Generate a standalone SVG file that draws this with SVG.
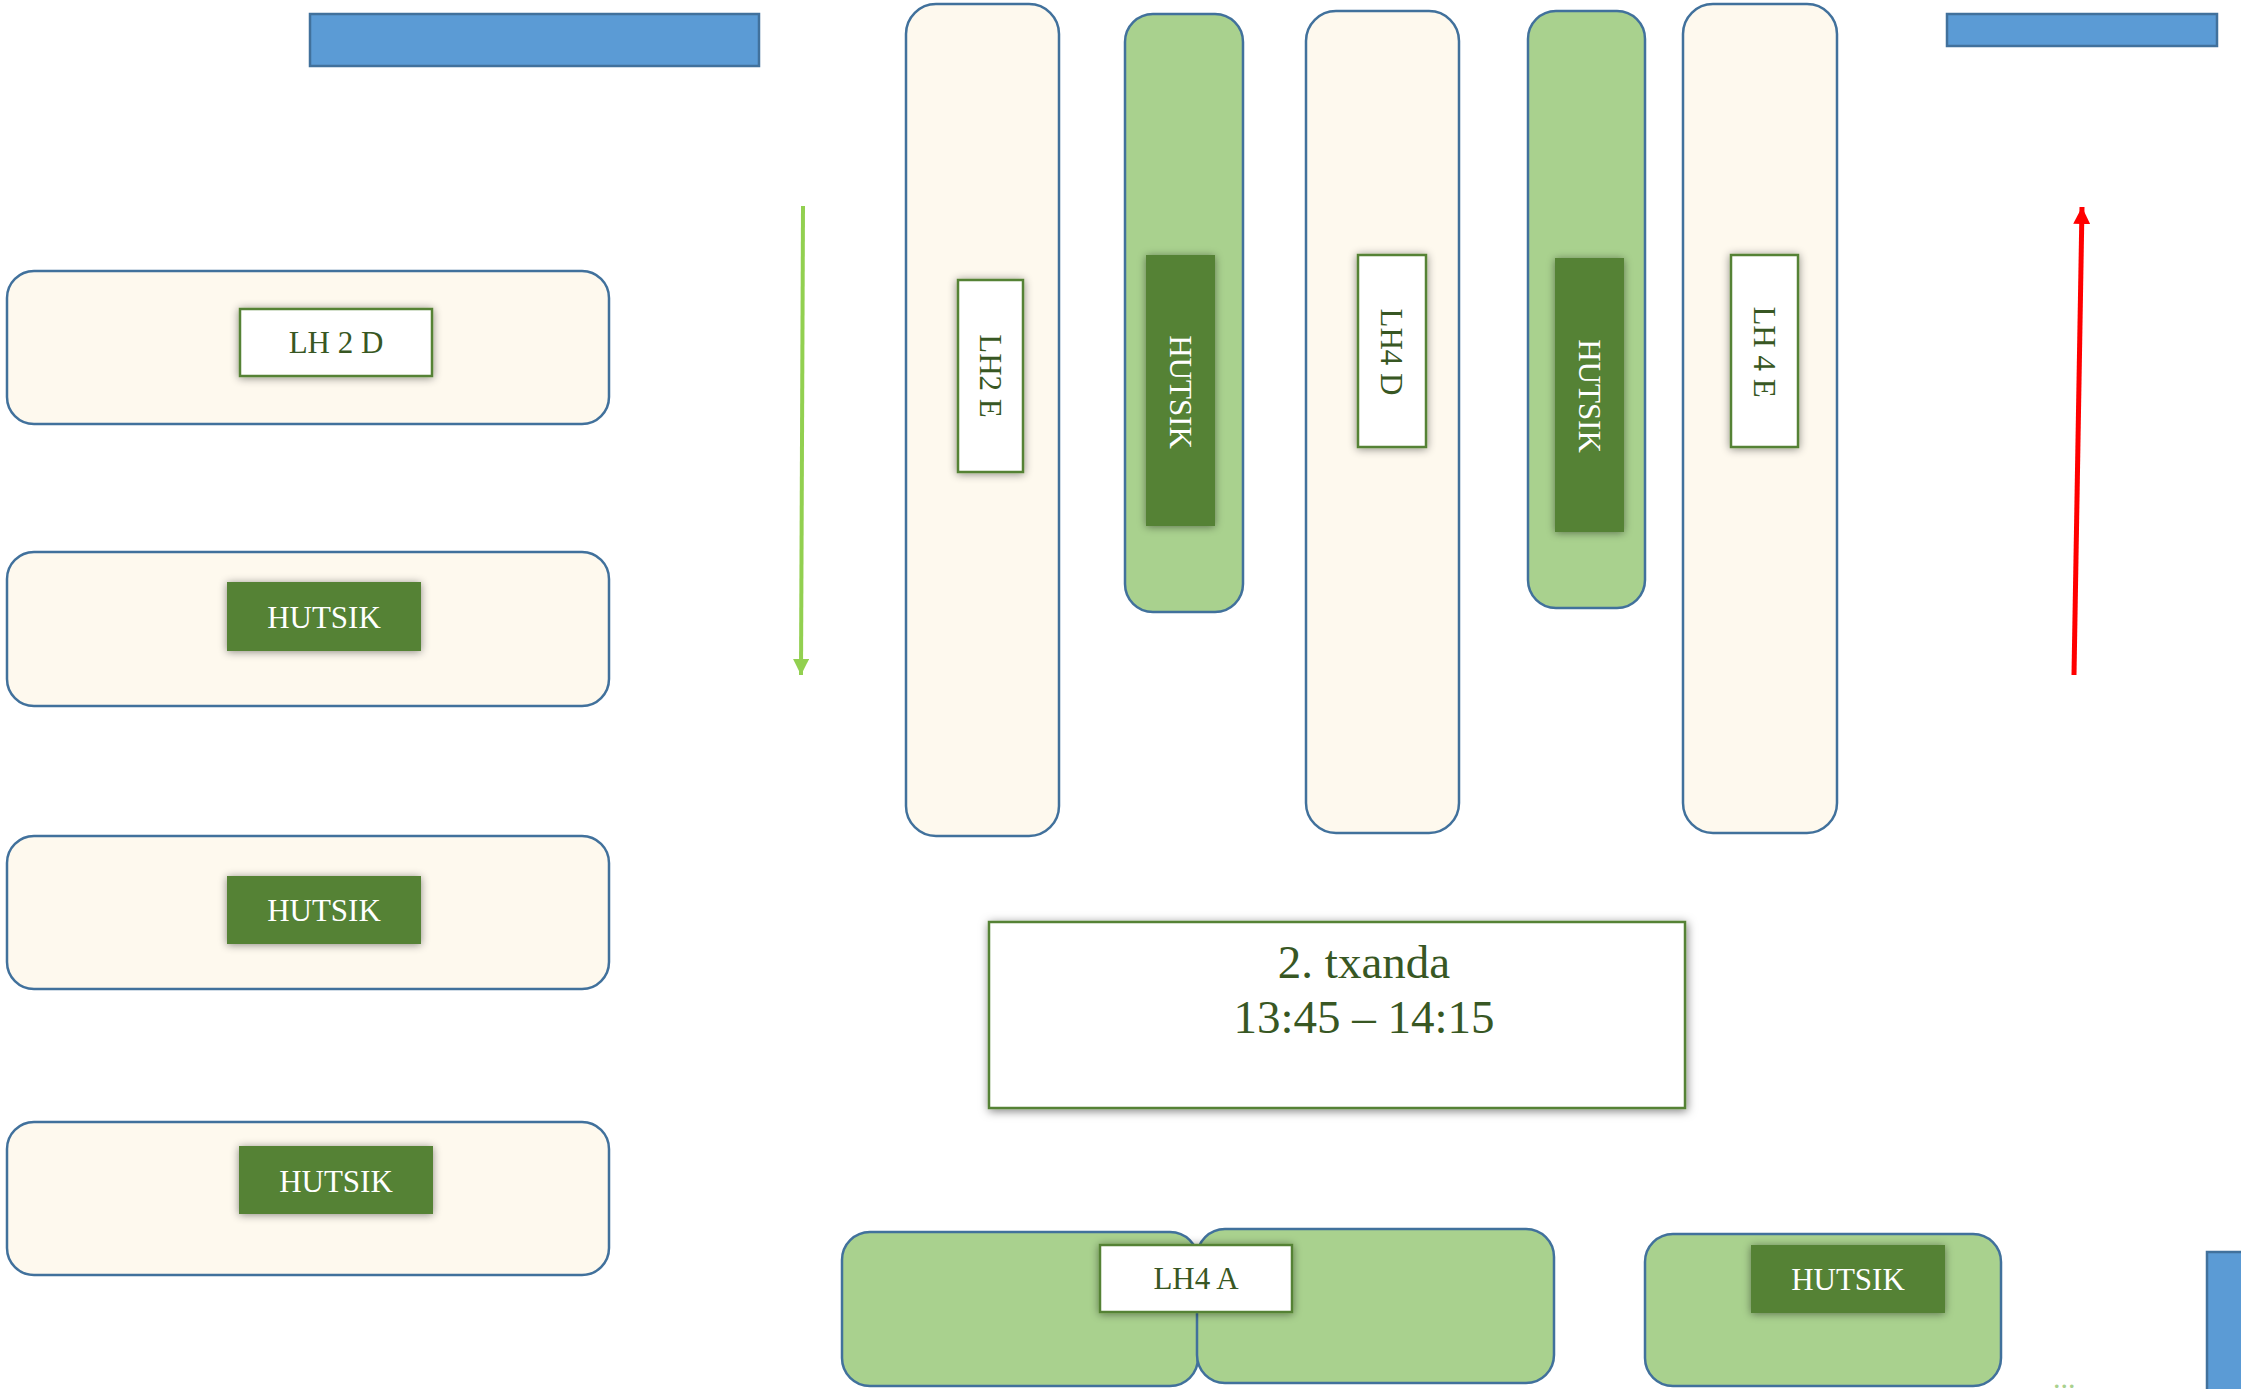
<svg xmlns="http://www.w3.org/2000/svg" width="2241" height="1389" viewBox="0 0 2241 1389">
<defs>
<filter id="sh" x="-30%" y="-30%" width="160%" height="160%">
<feDropShadow dx="0" dy="1" stdDeviation="4" flood-color="#000" flood-opacity="0.45"/>
</filter>
<filter id="sh2" x="-10%" y="-20%" width="120%" height="140%">
<feDropShadow dx="1" dy="2" stdDeviation="5" flood-color="#000" flood-opacity="0.5"/>
</filter>
<marker id="ahG" markerWidth="4" markerHeight="4" refX="4" refY="2" orient="auto" markerUnits="strokeWidth">
<path d="M0,0 L4,2 L0,4 Z" fill="#92D050"/>
</marker>
<marker id="ahR" markerWidth="3.4" markerHeight="3.4" refX="3.4" refY="1.7" orient="auto" markerUnits="strokeWidth">
<path d="M0,0 L3.4,1.7 L0,3.4 Z" fill="#FF0000"/>
</marker>
</defs>
<style>
.cream{fill:#FEF9EE;stroke:#41719C;stroke-width:2.5}
.lg{fill:#A9D18E;stroke:#41719C;stroke-width:2.5}
.blue{fill:#5B9BD5;stroke:#41719C;stroke-width:2.5}
.lab{fill:#FFFFFF;stroke:#548235;stroke-width:2.5;filter:url(#sh)}
.dk{fill:#548235;filter:url(#sh)}
.t{font-family:"Liberation Serif","Times New Roman",serif;font-size:31px;text-anchor:middle}
.tg{fill:#385723}
.tw{fill:#FFFFFF}
</style>

<g id="blue-top-left"><rect class="blue" x="310" y="14" width="449" height="52"/></g>
<g id="blue-top-right"><rect class="blue" x="1947" y="14" width="270" height="32"/></g>
<g id="blue-bottom-right"><rect class="blue" x="2207" y="1252" width="40" height="145"/></g>

<g id="row-lh2d">
<rect class="cream" x="7" y="271" width="602" height="153" rx="27"/>
<rect class="lab" x="240" y="309" width="192" height="67"/>
<text class="t tg" x="336" y="353">LH 2 D</text>
</g>
<g id="row-hutsik-1">
<rect class="cream" x="7" y="552" width="602" height="154" rx="27"/>
<rect class="dk" x="227" y="582" width="194" height="69"/>
<text class="t tw" x="324" y="628">HUTSIK</text>
</g>
<g id="row-hutsik-2">
<rect class="cream" x="7" y="836" width="602" height="153" rx="27"/>
<rect class="dk" x="227" y="876" width="194" height="68"/>
<text class="t tw" x="324" y="921">HUTSIK</text>
</g>
<g id="row-hutsik-3">
<rect class="cream" x="7" y="1122" width="602" height="153" rx="27"/>
<rect class="dk" x="239" y="1146" width="194" height="68"/>
<text class="t tw" x="336" y="1192">HUTSIK</text>
</g>

<g id="col-lh2e">
<rect class="cream" x="906" y="4" width="153" height="832" rx="30"/>
<rect class="lab" x="958" y="280" width="65" height="192"/>
<text class="t tg" transform="translate(990.5,376) rotate(90)" x="0" y="11">LH2 E</text>
</g>
<g id="col-hutsik-1">
<rect class="lg" x="1125" y="14" width="118" height="598" rx="28"/>
<rect class="dk" x="1146" y="255" width="69" height="271"/>
<text class="t tw" transform="translate(1180.5,392) rotate(90)" x="0" y="11">HUTSIK</text>
</g>
<g id="col-lh4d">
<rect class="cream" x="1306" y="11" width="153" height="822" rx="30"/>
<rect class="lab" x="1358" y="255" width="68" height="192"/>
<text class="t tg" transform="translate(1392,352) rotate(90)" x="0" y="11">LH4 D</text>
</g>
<g id="col-hutsik-2">
<rect class="lg" x="1528" y="11" width="117" height="597" rx="28"/>
<rect class="dk" x="1555" y="258" width="69" height="274"/>
<text class="t tw" transform="translate(1589.5,396) rotate(90)" x="0" y="11">HUTSIK</text>
</g>
<g id="col-lh4e">
<rect class="cream" x="1683" y="4" width="154" height="829" rx="30"/>
<rect class="lab" x="1731" y="255" width="67" height="192"/>
<text class="t tg" transform="translate(1764.5,352) rotate(90)" x="0" y="11">LH 4 E</text>
</g>

<g id="title">
<rect x="989" y="922" width="696" height="186" fill="#FFFFFF" stroke="#548235" stroke-width="2.5" filter="url(#sh2)"/>
<text class="tg" font-family="&quot;Liberation Serif&quot;,&quot;Times New Roman&quot;,serif" font-size="47" text-anchor="middle" x="1364" y="978">2. txanda</text>
<text class="tg" font-family="&quot;Liberation Serif&quot;,&quot;Times New Roman&quot;,serif" font-size="47" text-anchor="middle" x="1364" y="1033">13:45 – 14:15</text>
</g>

<g id="bottom-lh4a">
<rect class="lg" x="842" y="1232" width="356" height="154" rx="28"/>
<rect class="lg" x="1197" y="1229" width="357" height="154" rx="28"/>
<rect class="lab" x="1100" y="1245" width="192" height="67"/>
<text class="t tg" x="1196" y="1289">LH4 A</text>
</g>
<g id="bottom-hutsik">
<rect class="lg" x="1645" y="1234" width="356" height="152" rx="28"/>
<rect class="dk" x="1751" y="1245" width="194" height="68"/>
<text class="t tw" x="1848" y="1290">HUTSIK</text>
</g>
<g id="ellipsis">
<text font-family="&quot;Liberation Serif&quot;,serif" font-size="30" fill="#A9D18E" x="2053" y="1388">...</text>
</g>

<g id="connectors">
<line x1="803" y1="206" x2="801" y2="675" stroke="#92D050" stroke-width="4" marker-end="url(#ahG)"/>
<line x1="2074" y1="675" x2="2082" y2="207" stroke="#FF0000" stroke-width="5" marker-end="url(#ahR)"/>
</g>
</svg>
